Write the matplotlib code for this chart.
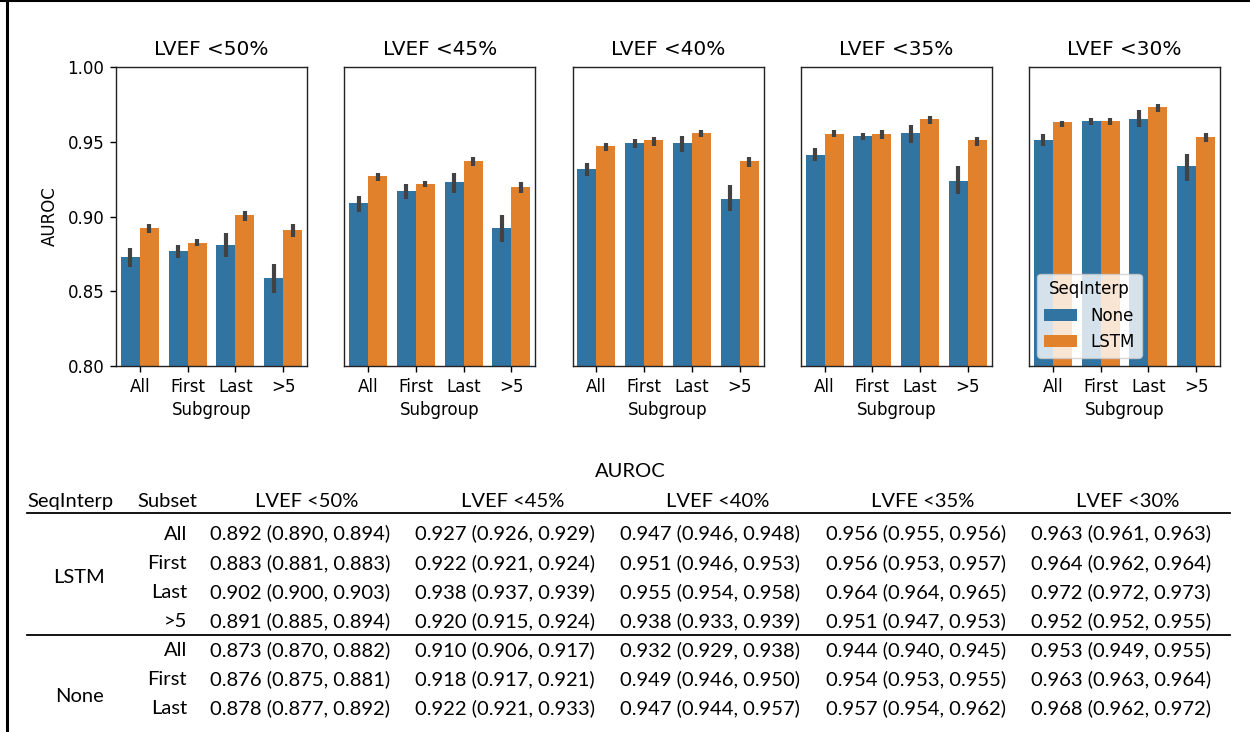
import matplotlib
matplotlib.use('Agg')
import matplotlib.pyplot as plt
from matplotlib.lines import Line2D
from matplotlib.patches import Patch
import numpy as np

plt.rcParams['font.family'] = ['DejaVu Sans']

# ---------------- data ----------------
panel_titles = ["LVEF <50%", "LVEF <45%", "LVEF <40%", "LVEF <35%", "LVEF <30%"]
subgroups = ["All", "First", "Last", ">5"]
hue_levels = ["None", "LSTM"]

none_mean = [[0.873, 0.877, 0.881, 0.859],
             [0.909, 0.917, 0.923, 0.892],
             [0.932, 0.949, 0.949, 0.912],
             [0.941, 0.954, 0.956, 0.924],
             [0.951, 0.964, 0.965, 0.934]]
none_lo = [[0.866, 0.872, 0.873, 0.849],
           [0.903, 0.912, 0.916, 0.883],
           [0.927, 0.946, 0.943, 0.904],
           [0.937, 0.951, 0.949, 0.915],
           [0.947, 0.961, 0.960, 0.924]]
none_hi = [[0.879, 0.881, 0.889, 0.868],
           [0.914, 0.922, 0.929, 0.901],
           [0.936, 0.952, 0.954, 0.921],
           [0.946, 0.956, 0.961, 0.934],
           [0.955, 0.966, 0.971, 0.942]]
lstm_mean = [[0.892, 0.882, 0.901, 0.891],
             [0.927, 0.922, 0.937, 0.920],
             [0.947, 0.951, 0.956, 0.937],
             [0.955, 0.955, 0.965, 0.951],
             [0.963, 0.964, 0.973, 0.953]]
lstm_lo = [[0.889, 0.880, 0.897, 0.886],
           [0.924, 0.920, 0.934, 0.916],
           [0.944, 0.947, 0.953, 0.933],
           [0.953, 0.952, 0.962, 0.947],
           [0.960, 0.961, 0.970, 0.950]]
lstm_hi = [[0.895, 0.885, 0.904, 0.895],
           [0.929, 0.924, 0.940, 0.923],
           [0.949, 0.953, 0.958, 0.940],
           [0.958, 0.958, 0.967, 0.953],
           [0.964, 0.966, 0.975, 0.956]]

yticks = [0.80, 0.85, 0.90, 0.95, 1.00]

# table data
table_title = "AUROC"
table_col_headers = ["SeqInterp", "Subset", "LVEF <50%", "LVEF <45%", "LVEF <40%", "LVFE <35%", "LVEF <30%"]
table_groups = ["LSTM", "None"]
lstm_subsets = ["All", "First", "Last", ">5"]
none_subsets = ["All", "First", "Last"]
lstm_tab = [  # rows: subsets; cols: thresholds; (point, lo, hi)
    [(0.892, 0.890, 0.894), (0.927, 0.926, 0.929), (0.947, 0.946, 0.948), (0.956, 0.955, 0.956), (0.963, 0.961, 0.963)],
    [(0.883, 0.881, 0.883), (0.922, 0.921, 0.924), (0.951, 0.946, 0.953), (0.956, 0.953, 0.957), (0.964, 0.962, 0.964)],
    [(0.902, 0.900, 0.903), (0.938, 0.937, 0.939), (0.955, 0.954, 0.958), (0.964, 0.964, 0.965), (0.972, 0.972, 0.973)],
    [(0.891, 0.885, 0.894), (0.920, 0.915, 0.924), (0.938, 0.933, 0.939), (0.951, 0.947, 0.953), (0.952, 0.952, 0.955)],
]
none_tab = [
    [(0.873, 0.870, 0.882), (0.910, 0.906, 0.917), (0.932, 0.929, 0.938), (0.944, 0.940, 0.945), (0.953, 0.949, 0.955)],
    [(0.876, 0.875, 0.881), (0.918, 0.917, 0.921), (0.949, 0.946, 0.950), (0.954, 0.953, 0.955), (0.963, 0.963, 0.964)],
    [(0.878, 0.877, 0.892), (0.922, 0.921, 0.933), (0.947, 0.944, 0.957), (0.957, 0.954, 0.962), (0.968, 0.962, 0.972)],
]

# ---------------- figure ----------------
W, H = 1250, 732
fig = plt.figure(figsize=(W / 100, H / 100), dpi=100)


def fx(x):
    return x / W


def fy(y):
    return 1 - y / H


colors = ["#3274a1", "#e1812c"]
err_color = "#424242"
x = np.arange(len(subgroups))
bw = 0.4

for i in range(5):
    left = 116 + i * 228.25
    ax = fig.add_axes([fx(left), fy(366), 191 / W, 299 / H])
    means = [none_mean[i], lstm_mean[i]]
    los = [none_lo[i], lstm_lo[i]]
    his = [none_hi[i], lstm_hi[i]]
    for h in range(2):
        xs = x + (h - 0.5) * bw
        ax.bar(xs, means[h], width=bw, color=colors[h], linewidth=0, zorder=2)
        ax.vlines(xs, los[h], his[h], color=err_color, linewidth=3.0, zorder=3)
    ax.set_xlim(-0.5, len(subgroups) - 0.5)
    ax.set_ylim(0.80, 1.00)
    ax.set_xticks(x)
    ax.set_xticklabels(subgroups, fontsize=12)
    ax.tick_params(axis='x', length=4.2, width=1.0, pad=4.2)
    ax.set_xlabel("Subgroup", fontsize=12, labelpad=4.0)
    ax.set_title(panel_titles[i], fontsize=14.4, pad=8.5)
    for sp in ax.spines.values():
        sp.set_linewidth(1.0)
        sp.set_color("#222222")
    if i == 0:
        ax.set_yticks(yticks)
        ax.set_yticklabels([f"{v:.2f}" for v in yticks], fontsize=12)
        ax.tick_params(axis='y', length=4.2, width=1.0, pad=4.2)
        ax.set_ylabel("AUROC", fontsize=12, labelpad=6)
    else:
        ax.set_yticks([])
    if i == 4:
        handles = [Patch(facecolor=colors[0], label=hue_levels[0]),
                   Patch(facecolor=colors[1], label=hue_levels[1])]
        ax.legend(handles=handles, title="SeqInterp", loc="lower left",
                  fontsize=12, title_fontsize=12, framealpha=0.8)

# ---------------- table ----------------
tfam = ["Lato", "DejaVu Sans"]
tfs = 14.5
data_cx = [300, 505, 710, 916, 1121]
head_cx = [307, 513, 718, 923, 1128]

fig.text(fx(630), fy(477), table_title, ha="center", va="baseline", fontsize=tfs, family=tfam)
fig.text(fx(70), fy(507), table_col_headers[0], ha="center", va="baseline", fontsize=tfs, family=tfam)
fig.text(fx(167), fy(507), table_col_headers[1], ha="center", va="baseline", fontsize=tfs, family=tfam)
for j in range(5):
    fig.text(fx(head_cx[j]), fy(507), table_col_headers[2 + j], ha="center", va="baseline",
             fontsize=tfs, family=tfam)

fig.add_artist(Line2D([fx(27), fx(1230)], [fy(513), fy(513)], color="black", lw=1.3))
fig.add_artist(Line2D([fx(27), fx(1230)], [fy(635), fy(635)], color="black", lw=1.3))

lstm_base = [539.5, 569.0, 598.0, 627.0]
none_base = [656.5, 685.0, 714.0]


def fmt(t):
    return f"{t[0]:.3f} ({t[1]:.3f}, {t[2]:.3f})"


for r, sub in enumerate(lstm_subsets):
    fig.text(fx(187), fy(lstm_base[r]), sub, ha="right", va="baseline", fontsize=tfs, family=tfam)
    for j in range(5):
        fig.text(fx(data_cx[j]), fy(lstm_base[r]), fmt(lstm_tab[r][j]), ha="center", va="baseline",
                 fontsize=tfs, family=tfam)
for r, sub in enumerate(none_subsets):
    fig.text(fx(187), fy(none_base[r]), sub, ha="right", va="baseline", fontsize=tfs, family=tfam)
    for j in range(5):
        fig.text(fx(data_cx[j]), fy(none_base[r]), fmt(none_tab[r][j]), ha="center", va="baseline",
                 fontsize=tfs, family=tfam)

fig.text(fx(79), fy(583), table_groups[0], ha="center", va="baseline", fontsize=tfs, family=tfam)
fig.text(fx(79), fy(702), table_groups[1], ha="center", va="baseline", fontsize=tfs, family=tfam)

# image frame (top and left)
fig.add_artist(Line2D([0, 1], [fy(1), fy(1)], color="black", lw=1.5))
fig.add_artist(Line2D([fx(6.5), fx(6.5)], [0, 1], color="black", lw=2.2))

fig.savefig("out.png", dpi=100)
